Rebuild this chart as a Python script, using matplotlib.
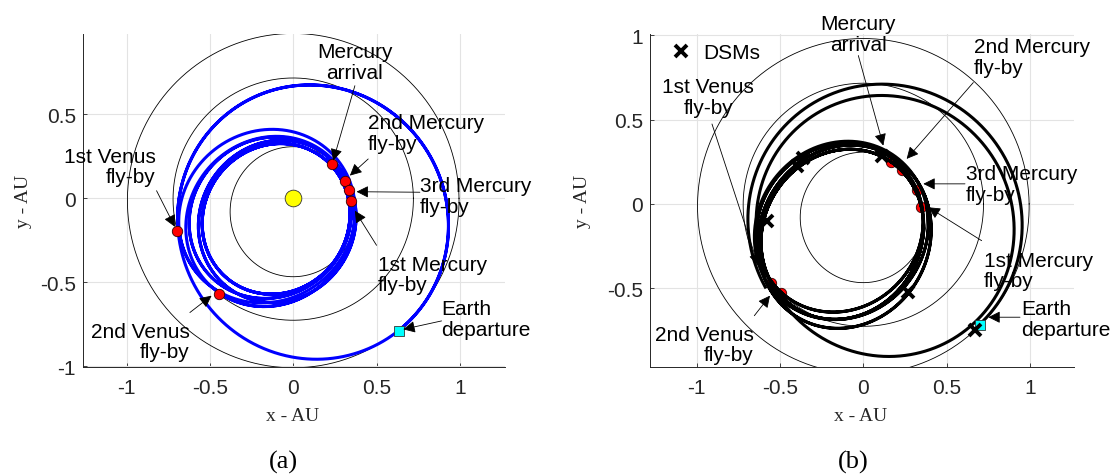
import numpy as np
import matplotlib
matplotlib.use('Agg')
import matplotlib.pyplot as plt
from matplotlib.patches import FancyArrowPatch
from matplotlib.lines import Line2D

plt.rcParams['axes.unicode_minus'] = False

# ---------------- data ----------------
# planetary orbits (perihelion / aphelion distance in AU, perihelion direction in deg)
planet_names = ['Mercury', 'Venus', 'Earth']
planet_rp = [0.307, 0.716, 0.981]
planet_ra = [0.467, 0.726, 1.009]
planet_peri_deg = [90, 90, 90]

# panel (a): trajectory legs (conic arcs)
a_leg_rp = [0.64, 0.35, 0.33, 0.32, 0.325, 0.30]
a_leg_ra = [1.01, 0.73, 0.72, 0.68, 0.66, 0.62]
a_leg_peri_deg = [130, 34, 45, 40, 55, 50]
a_leg_start_deg = [-51.3, 196, 232, -2.4, 17.9, 8.5]
a_leg_end_deg = [556, 592, 718, 737.9, 728.5, 1121.6]

# panel (a): events
a_event_names = ['Earth departure', '1st Venus fly-by', '2nd Venus fly-by',
                 '1st Mercury fly-by', '2nd Mercury fly-by', '3rd Mercury fly-by',
                 'Mercury arrival']
a_event_x = [0.632, -0.695, -0.446, 0.344, 0.310, 0.335, 0.230]
a_event_y = [-0.788, -0.196, -0.570, -0.014, 0.100, 0.050, 0.204]

# panel (b): trajectory legs
b_leg_rp = [0.66, 0.60, 0.34, 0.33, 0.32, 0.30]
b_leg_ra = [1.00, 0.97, 0.75, 0.78, 0.72, 0.74]
b_leg_peri_deg = [140, 135, 50, 60, 45, 55]
b_leg_start_deg = [-46, 220, 227, -2.6, 40.5, 14.5]
b_leg_end_deg = [220, 587, 717.4, 760.5, 734.5, 1136.7]

# panel (b): events
b_event_x = [0.700, -0.554, -0.495, 0.346, 0.234, 0.320, 0.164]
b_event_y = [-0.718, -0.470, -0.530, -0.016, 0.200, 0.083, 0.250]

# panel (b): deep space manoeuvres
dsm_x = [-0.36, -0.40, 0.11, -0.58, 0.27, 0.67]
dsm_y = [0.27, 0.227, 0.286, -0.10, -0.52, -0.75]

x_ticks = [-1, -0.5, 0, 0.5, 1]
x_ticklabels = ['-1', '-0.5', '0', '0.5', '1']
y_ticks = [-1, -0.5, 0, 0.5, 1]
y_ticklabels = ['-1', '-0.5', '0', '0.5', '1']

# ---------------- annotation layout ----------------
ann_a = [
    ('Mercury\narrival', (0.37, 0.81), 'center', (0.37, 0.67), (0.24, 0.224)),
    ('2nd Mercury\nfly-by', (0.448, 0.388), 'left', (0.45, 0.234), (0.34, 0.135)),
    ('3rd Mercury\nfly-by', (0.76, 0.015), 'left', (0.76, 0.036), (0.38, 0.039)),
    ('1st Mercury\nfly-by', (0.51, -0.455), 'left', (0.50, -0.28), (0.37, -0.074)),
    ('Earth\ndeparture', (0.89, -0.72), 'left', (0.89, -0.73), (0.66, -0.78)),
    ('1st Venus\nfly-by', (-0.827, 0.19), 'right', (-0.82, 0.045), (-0.71, -0.17)),
    ('2nd Venus\nfly-by', (-0.62, -0.852), 'right', (-0.62, -0.68), (-0.49, -0.58)),
]
ann_b = [
    ('Mercury\narrival', (-0.03, 1.008), 'center', (-0.03, 0.88), (0.12, 0.346)),
    ('2nd Mercury\nfly-by', (0.664, 0.87), 'left', (0.66, 0.72), (0.26, 0.267)),
    ('3rd Mercury\nfly-by', (0.616, 0.119), 'left', (0.61, 0.119), (0.36, 0.119)),
    ('1st Mercury\nfly-by', (0.724, -0.396), 'left', (0.71, -0.218), (0.39, -0.02)),
    ('Earth\ndeparture', (0.946, -0.682), 'left', (0.94, -0.672), (0.75, -0.672)),
    ('1st Venus\nfly-by', (-0.93, 0.633), 'center', (-0.908, 0.474), (-0.63, -0.366)),
    ('2nd Venus\nfly-by', (-0.656, -0.835), 'right', (-0.654, -0.663), (-0.56, -0.544)),
]

SANS = ['Liberation Sans', 'DejaVu Sans']
SERIF = ['Liberation Serif', 'DejaVu Serif']
FS = 15


def conic_xy(rp, ra, peri_deg, th0_deg, th1_deg, n=2000):
    e = (ra - rp) / (ra + rp)
    p = 2 * rp * ra / (ra + rp)
    th = np.radians(np.linspace(th0_deg, th1_deg, n))
    r = p / (1 + e * np.cos(th - np.radians(peri_deg)))
    return r * np.cos(th), r * np.sin(th)


def style_axes(ax, xlim, ylim):
    ax.set_xticks(x_ticks)
    ax.set_xticklabels(x_ticklabels, family=SANS)
    ax.set_yticks(y_ticks)
    ax.set_yticklabels(y_ticklabels, family=SANS)
    ax.set_xlim(*xlim)
    ax.set_ylim(*ylim)
    ax.tick_params(direction='in', length=3, width=0.6, labelsize=FS, colors='#262626')
    ax.tick_params(axis='x', pad=8)
    ax.tick_params(axis='y', pad=5)
    for s in ['top', 'right']:
        ax.spines[s].set_visible(False)
    for s in ['left', 'bottom']:
        ax.spines[s].set_color('#262626')
        ax.spines[s].set_linewidth(0.7)
    ax.grid(True, color='#e3e3e3', lw=0.8)
    ax.set_axisbelow(True)
    ax.set_xlabel('x - AU', family=SERIF, fontsize=14, color='#262626')
    ax.set_ylabel('y - AU', family=SERIF, fontsize=14, color='#262626')
    ax.xaxis.label.set_va('center')
    ax.yaxis.label.set_va('center')


def draw_planets(ax):
    for rp, ra, w in zip(planet_rp, planet_ra, planet_peri_deg):
        x, y = conic_xy(rp, ra, w, 0, 360, 800)
        ax.plot(x, y, color='black', lw=0.6, zorder=2)


def annotate(ax, items):
    for label, txy, ha, tail, head in items:
        ax.text(txy[0], txy[1], label, ha=ha, va='center', fontsize=FS,
                family=SANS, linespacing=1.1, zorder=6, clip_on=False)
        arr = FancyArrowPatch(posA=tail, posB=head,
                              arrowstyle='-|>,head_length=0.6,head_width=0.3',
                              mutation_scale=12, lw=0.6, color='black',
                              shrinkA=0, shrinkB=0, zorder=7, clip_on=False)
        ax.add_patch(arr)


fig = plt.figure(figsize=(11.17, 4.77), dpi=100)

# ---------------- panel (a) ----------------
axa = fig.add_axes([0.0742, 0.2279, 0.3775, 0.6988])
draw_planets(axa)
for rp, ra, w, t0, t1 in zip(a_leg_rp, a_leg_ra, a_leg_peri_deg, a_leg_start_deg, a_leg_end_deg):
    x, y = conic_xy(rp, ra, w, t0, t1)
    axa.plot(x, y, color='#0000ff', lw=2.2, zorder=3)
axa.plot([0], [0], 'o', ms=12, mfc='#ffff00', mec='#333333', mew=0.6, zorder=4)
axa.plot(a_event_x[1:], a_event_y[1:], 'o', ms=7.5, mfc='#ff0000', mec='#330000',
         mew=0.6, ls='none', zorder=5)
axa.plot(a_event_x[:1], a_event_y[:1], 's', ms=7.5, mfc='#00ffff', mec='#333333',
         mew=0.6, ls='none', zorder=5)
style_axes(axa, (-1.262, 1.268), (-1.006, 0.978))
annotate(axa, ann_a)
axa.yaxis.set_label_coords(-0.142, 0.5)
axa.xaxis.set_label_coords(0.498, -0.145)

# ---------------- panel (b) ----------------
axb = fig.add_axes([0.5819, 0.2279, 0.3799, 0.6988])
draw_planets(axb)
axb.plot(b_event_x[1:], b_event_y[1:], 'o', ms=7.5, mfc='#ff0000', mec='#330000',
         mew=0.6, ls='none', zorder=3)
for rp, ra, w, t0, t1 in zip(b_leg_rp, b_leg_ra, b_leg_peri_deg, b_leg_start_deg, b_leg_end_deg):
    x, y = conic_xy(rp, ra, w, t0, t1)
    axb.plot(x, y, color='black', lw=2.2, zorder=4)
axb.plot(b_event_x[:1], b_event_y[:1], 's', ms=7.5, mfc='#00ffff', mec='#333333',
         mew=0.6, ls='none', zorder=5)
axb.plot(dsm_x, dsm_y, 'x', ms=8, mew=2.8, color='black', ls='none', zorder=6)
style_axes(axb, (-1.28, 1.266), (-0.969, 1.008))
annotate(axb, ann_b)
axb.yaxis.set_label_coords(-0.158, 0.5)
axb.xaxis.set_label_coords(0.497, -0.145)

handle = Line2D([], [], marker='x', ms=8, mew=2.8, color='black', ls='none')
leg = axb.legend([handle], ['DSMs'], loc='center left', bbox_to_anchor=(0.048, 0.943),
                 frameon=False, borderpad=0, borderaxespad=0, handlelength=1.0,
                 handletextpad=0.6, prop={'family': SANS, 'size': FS})

fig.text(283 / 1117, 1 - 462 / 477, '(a)', ha='center', va='center',
         family=SERIF, fontsize=19)
fig.text(853 / 1117, 1 - 462 / 477, '(b)', ha='center', va='center',
         family=SERIF, fontsize=19)

fig.savefig('out.png', dpi=100)
